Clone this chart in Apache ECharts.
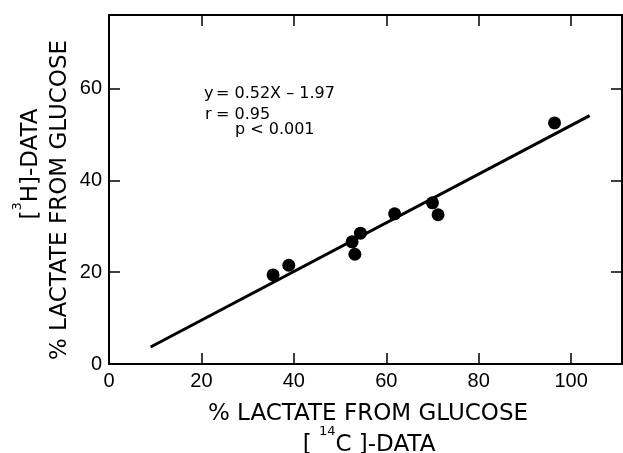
<!DOCTYPE html>
<html>
<head>
<meta charset="utf-8">
<script src="https://cdn.jsdelivr.net/npm/echarts@6/dist/echarts.min.js"></script>
<style>
  html, body { margin: 0; padding: 0; background: #fff; }
  #chart { width: 623px; height: 453px; }
</style>
</head>
<body>
<div id="chart"></div>
<script>
// measured points: [14C] vs [3H] lactate from glucose (%)
const carbonData = [35.5, 38.9, 52.6, 53.2, 54.4, 61.8, 70.0, 71.2, 96.4];
const tritiumData = [19.4, 21.5, 26.6, 23.9, 28.5, 32.7, 35.1, 32.5, 52.5];

// regression line endpoints as drawn
const fitX = [9, 104];
const fitY = [3.7, 54.1];

const equationLines = ['y', '= 0.52X – 1.97', 'r', '= 0.95', 'p < 0.001'];
const xTitle = ['% LACTATE FROM GLUCOSE', '[ {sup|14}C ]-DATA'];
const yTitle = ['[{sup|3}H]-DATA', '% LACTATE FROM GLUCOSE'];

const FONT = '"Liberation Sans", Arial, Helvetica, sans-serif';
const TITLE_FONT = '"DejaVu Sans", sans-serif';

const chart = echarts.init(document.getElementById('chart'));

const points = carbonData.map((x, i) => [x, tritiumData[i]]);
const fitLine = fitX.map((x, i) => [x, fitY[i]]);

// common axis look: black line, inward ticks
const axisBase = {
  type: 'value',
  splitLine: { show: false },
  axisLine: { show: true, onZero: false, lineStyle: { color: '#000', width: 2 } },
  axisTick: { show: true, inside: true, length: 11, lineStyle: { color: '#000', width: 1.5 } }
};

const supRich = {
  sup: { fontSize: 13, fontFamily: TITLE_FONT, fill: '#000', verticalAlign: 'top', lineHeight: 14 }
};

const eqText = (x, y, text) => ({
  type: 'text', x: x, y: y,
  style: { text: text, font: '16px ' + TITLE_FONT, fill: '#000', textVerticalAlign: 'middle' }
});

// axis title line; rotated for the y axis
const titleText = (x, y, text, rotated) => ({
  type: 'text', x: x, y: y,
  rotation: rotated ? Math.PI / 2 : 0,
  style: {
    text: text,
    fontSize: 23,
    fontFamily: TITLE_FONT,
    fill: '#000',
    lineHeight: 40,
    align: 'center',
    verticalAlign: 'middle',
    rich: supRich
  }
});

const option = {
  backgroundColor: '#fff',
  animation: false,
  grid: { left: 109, right: 1, top: 15, bottom: 89, outerBoundsMode: 'none', containLabel: false },
  xAxis: [
    {
      ...axisBase,
      position: 'bottom',
      min: 0,
      max: 111,
      interval: 20,
      axisLabel: {
        show: true, showMaxLabel: false, margin: 7,
        color: '#000', fontSize: 20, fontFamily: FONT
      }
    },
    {
      ...axisBase,
      position: 'top',
      min: 0,
      max: 111,
      interval: 20,
      axisLabel: { show: false }
    }
  ],
  yAxis: [
    {
      ...axisBase,
      position: 'left',
      min: 0,
      max: 76,
      interval: 20,
      axisLabel: {
        show: true, showMaxLabel: false, margin: 7,
        color: '#000', fontSize: 20, fontFamily: FONT
      }
    },
    {
      ...axisBase,
      position: 'right',
      min: 0,
      max: 76,
      interval: 20,
      axisLabel: { show: false }
    }
  ],
  series: [
    {
      type: 'line',
      data: fitLine,
      symbol: 'none',
      lineStyle: { color: '#000', width: 3 },
      z: 2
    },
    {
      type: 'scatter',
      data: points,
      symbol: 'circle',
      symbolSize: 13,
      itemStyle: { color: '#000', opacity: 1 },
      z: 3
    }
  ],
  graphic: [
    eqText(204, 94, equationLines[0]),
    eqText(216, 94, equationLines[1]),
    eqText(205, 115, equationLines[2]),
    eqText(216, 115, equationLines[3]),
    eqText(235, 130, equationLines[4]),
    titleText(368, 414, xTitle[0], false),
    titleText(369, 445, xTitle[1], false),
    titleText(31, 164, yTitle[0], true),
    titleText(60, 200, yTitle[1], true)
  ]
};

chart.setOption(option);
</script>
</body>
</html>
